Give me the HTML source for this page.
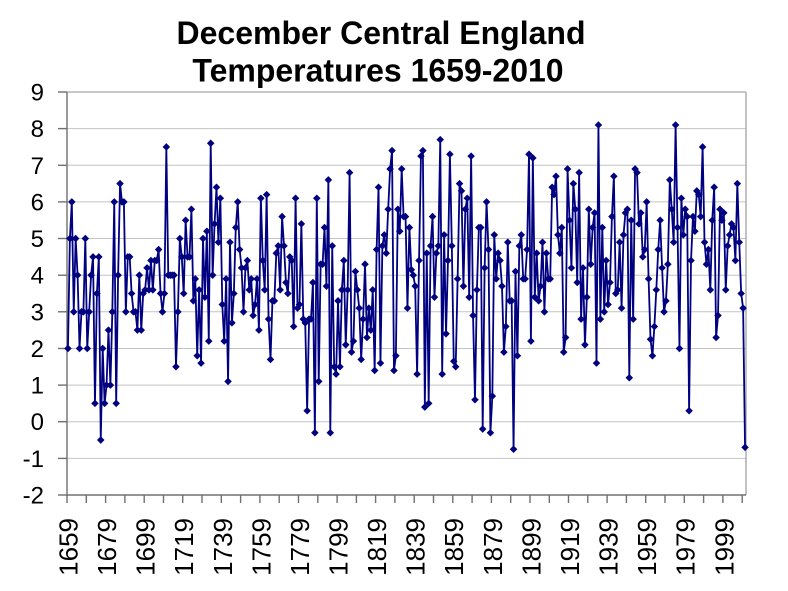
<!DOCTYPE html>
<html>
<head>
<meta charset="utf-8">
<style>
  html,body{margin:0;padding:0;background:#fff;}
  body{width:788px;height:591px;overflow:hidden;}
  svg{display:block;}
  text{font-family:"Liberation Sans",Arial,sans-serif;fill:#000;}
</style>
</head>
<body>
<svg width="788" height="591" viewBox="0 0 788 591" xmlns="http://www.w3.org/2000/svg">
  <defs>
    <marker id="dm" markerUnits="userSpaceOnUse" markerWidth="4" markerHeight="1" refX="0" refY="0" orient="0" overflow="visible" style="overflow:visible">
      <path d="M-1.95,0 L0,0.103 L1.95,0 L0,-0.103Z" fill="#000080"/>
    </marker>
  </defs>

  <!-- title -->
  <text x="381" y="44" font-size="32" font-weight="bold" text-anchor="middle">December Central England</text>
  <text x="378" y="81.5" font-size="32" font-weight="bold" text-anchor="middle">Temperatures 1659-2010</text>

  <!-- gridlines -->
  <g stroke="#c4c4c4" stroke-width="1">
    <line x1="67" y1="128.6" x2="746" y2="128.6"/>
    <line x1="67" y1="165.3" x2="746" y2="165.3"/>
    <line x1="67" y1="201.9" x2="746" y2="201.9"/>
    <line x1="67" y1="238.5" x2="746" y2="238.5"/>
    <line x1="67" y1="275.2" x2="746" y2="275.2"/>
    <line x1="67" y1="311.8" x2="746" y2="311.8"/>
    <line x1="67" y1="348.5" x2="746" y2="348.5"/>
    <line x1="67" y1="385.1" x2="746" y2="385.1"/>
    <line x1="67" y1="421.7" x2="746" y2="421.7"/>
    <line x1="67" y1="458.4" x2="746" y2="458.4"/>
  </g>
  <!-- plot border -->
  <line x1="67" y1="92" x2="746" y2="92" stroke="#a8a8a8" stroke-width="1.2"/>
  <line x1="746" y1="92" x2="746" y2="495" stroke="#a8a8a8" stroke-width="1.4"/>

  <!-- y axis -->
  <g stroke="#707070" stroke-width="1.4">
    <line x1="67" y1="92" x2="67" y2="496"/>
    <line x1="58" y1="92" x2="67" y2="92"/>
    <line x1="58" y1="128.6" x2="67" y2="128.6"/>
    <line x1="58" y1="165.3" x2="67" y2="165.3"/>
    <line x1="58" y1="201.9" x2="67" y2="201.9"/>
    <line x1="58" y1="238.5" x2="67" y2="238.5"/>
    <line x1="58" y1="275.2" x2="67" y2="275.2"/>
    <line x1="58" y1="311.8" x2="67" y2="311.8"/>
    <line x1="58" y1="348.5" x2="67" y2="348.5"/>
    <line x1="58" y1="385.1" x2="67" y2="385.1"/>
    <line x1="58" y1="421.7" x2="67" y2="421.7"/>
    <line x1="58" y1="458.4" x2="67" y2="458.4"/>
    <line x1="58" y1="495" x2="67" y2="495"/>
  </g>
  <g font-size="24" text-anchor="end">
    <text x="44" y="100.5">9</text>
    <text x="44" y="137.1">8</text>
    <text x="44" y="173.8">7</text>
    <text x="44" y="210.4">6</text>
    <text x="44" y="247">5</text>
    <text x="44" y="283.7">4</text>
    <text x="44" y="320.3">3</text>
    <text x="44" y="357">2</text>
    <text x="44" y="393.6">1</text>
    <text x="44" y="430.2">0</text>
    <text x="44" y="466.9">-1</text>
    <text x="44" y="503.5">-2</text>
  </g>

  <!-- x axis -->
  <g stroke="#707070" stroke-width="1.4">
    <line x1="66" y1="495" x2="746" y2="495"/>
    <line x1="67" y1="495" x2="67" y2="503"/>
    <line x1="86.3" y1="495" x2="86.3" y2="503"/>
    <line x1="105.6" y1="495" x2="105.6" y2="503"/>
    <line x1="124.9" y1="495" x2="124.9" y2="503"/>
    <line x1="144.2" y1="495" x2="144.2" y2="503"/>
    <line x1="163.5" y1="495" x2="163.5" y2="503"/>
    <line x1="182.7" y1="495" x2="182.7" y2="503"/>
    <line x1="202" y1="495" x2="202" y2="503"/>
    <line x1="221.3" y1="495" x2="221.3" y2="503"/>
    <line x1="240.6" y1="495" x2="240.6" y2="503"/>
    <line x1="259.9" y1="495" x2="259.9" y2="503"/>
    <line x1="279.2" y1="495" x2="279.2" y2="503"/>
    <line x1="298.5" y1="495" x2="298.5" y2="503"/>
    <line x1="317.8" y1="495" x2="317.8" y2="503"/>
    <line x1="337.1" y1="495" x2="337.1" y2="503"/>
    <line x1="356.4" y1="495" x2="356.4" y2="503"/>
    <line x1="375.6" y1="495" x2="375.6" y2="503"/>
    <line x1="394.9" y1="495" x2="394.9" y2="503"/>
    <line x1="414.2" y1="495" x2="414.2" y2="503"/>
    <line x1="433.5" y1="495" x2="433.5" y2="503"/>
    <line x1="452.8" y1="495" x2="452.8" y2="503"/>
    <line x1="472.1" y1="495" x2="472.1" y2="503"/>
    <line x1="491.4" y1="495" x2="491.4" y2="503"/>
    <line x1="510.7" y1="495" x2="510.7" y2="503"/>
    <line x1="530" y1="495" x2="530" y2="503"/>
    <line x1="549.3" y1="495" x2="549.3" y2="503"/>
    <line x1="568.5" y1="495" x2="568.5" y2="503"/>
    <line x1="587.8" y1="495" x2="587.8" y2="503"/>
    <line x1="607.1" y1="495" x2="607.1" y2="503"/>
    <line x1="626.4" y1="495" x2="626.4" y2="503"/>
    <line x1="645.7" y1="495" x2="645.7" y2="503"/>
    <line x1="665" y1="495" x2="665" y2="503"/>
    <line x1="684.3" y1="495" x2="684.3" y2="503"/>
    <line x1="703.6" y1="495" x2="703.6" y2="503"/>
    <line x1="722.9" y1="495" x2="722.9" y2="503"/>
    <line x1="742.2" y1="495" x2="742.2" y2="503"/>
  </g>
  <g font-size="26" text-anchor="end">
    <text transform="translate(77.5,518) rotate(-90)">1659</text>
    <text transform="translate(116,518) rotate(-90)">1679</text>
    <text transform="translate(154.6,518) rotate(-90)">1699</text>
    <text transform="translate(193.2,518) rotate(-90)">1719</text>
    <text transform="translate(231.8,518) rotate(-90)">1739</text>
    <text transform="translate(270.3,518) rotate(-90)">1759</text>
    <text transform="translate(308.9,518) rotate(-90)">1779</text>
    <text transform="translate(347.5,518) rotate(-90)">1799</text>
    <text transform="translate(386.1,518) rotate(-90)">1819</text>
    <text transform="translate(424.7,518) rotate(-90)">1839</text>
    <text transform="translate(463.2,518) rotate(-90)">1859</text>
    <text transform="translate(501.8,518) rotate(-90)">1879</text>
    <text transform="translate(540.4,518) rotate(-90)">1899</text>
    <text transform="translate(579,518) rotate(-90)">1919</text>
    <text transform="translate(617.6,518) rotate(-90)">1939</text>
    <text transform="translate(656.1,518) rotate(-90)">1959</text>
    <text transform="translate(694.7,518) rotate(-90)">1979</text>
    <text transform="translate(733.3,518) rotate(-90)">1999</text>
  </g>

  <!-- data series -->
  <g transform="translate(67.96,421.73) scale(1.929,-36.636)">
    <polyline fill="none" stroke="#000080" stroke-width="1.8" stroke-linejoin="round" vector-effect="non-scaling-stroke" points="0,2 1,5 2,6 3,3 4,5 5,4 6,2 7,3 8,3 9,5 10,2 11,3 12,4 13,4.5 14,0.5 15,3.5 16,4.5 17,-0.5 18,2 19,0.5 20,1 21,2.5 22,1 23,3 24,6 25,0.5 26,4 27,6.5 28,6 29,6 30,3 31,4.5 32,4.5 33,3.5 34,3 35,3 36,2.5 37,4 38,2.5 39,3.5 40,3.6 41,4.2 42,3.6 43,4.4 44,3.6 45,4.4 46,4.4 47,4.7 48,3.5 49,3 50,3.5 51,7.5 52,4 53,4 54,4 55,4 56,1.5 57,3 58,5 59,4.5 60,3.5 61,5.5 62,4.5 63,4.5 64,5.8 65,3.3 66,3.9 67,1.8 68,3.6 69,1.6 70,5 71,3.4 72,5.2 73,2.2 74,7.6 75,4 76,5.4 77,6.4 78,4.9 79,6.1 80,3.2 81,2.2 82,3.9 83,1.1 84,4.9 85,2.7 86,3.5 87,5.3 88,6 89,4.7 90,4.2 91,3 92,4.2 93,4.4 94,3.6 95,3.9 96,2.9 97,3.2 98,3.9 99,2.5 100,6.1 101,4.4 102,3.6 103,6.2 104,2.8 105,1.7 106,3.3 107,3.3 108,4.6 109,4.8 110,3.6 111,5.6 112,4.8 113,3.8 114,3.5 115,4.5 116,4.4 117,2.6 118,6.1 119,3.1 120,3.2 121,5.4 122,2.8 123,2.7 124,0.3 125,2.8 126,2.8 127,3.8 128,-0.3 129,6.1 130,1.1 131,4.3 132,4.3 133,5.3 134,3.7 135,6.6 136,-0.3 137,4.8 138,1.5 139,1.3 140,3.3 141,1.5 142,3.6 143,4.4 144,2.1 145,3.6 146,6.8 147,1.9 148,2.2 149,4.1 150,3.6 151,3.1 152,1.7 153,2.8 154,4.3 155,2.3 156,3.1 157,2.5 158,3.6 159,1.4 160,4.7 161,6.4 162,1.6 163,4.8 164,5.1 165,4.6 166,5.8 167,6.9 168,7.4 169,1.4 170,1.8 171,5.8 172,5.2 173,6.9 174,5.6 175,5.6 176,3.1 177,5.3 178,4.15 179,4 180,3.7 181,1.3 182,4.4 183,7.25 184,7.4 185,0.4 186,4.6 187,0.5 188,4.8 189,5.6 190,3.4 191,4.6 192,4.8 193,7.7 194,1.3 195,5.1 196,2.4 197,4.4 198,7.3 199,4.8 200,1.65 201,1.5 202,3.9 203,6.5 204,6.3 205,3.7 206,5.8 207,6.1 208,3.4 209,7.25 210,2.9 211,0.6 212,3.6 213,5.3 214,5.3 215,-0.2 216,4.2 217,6 218,4.7 219,-0.3 220,0.7 221,5.1 222,3.9 223,4.6 224,4.4 225,3.7 226,1.9 227,2.6 228,4.9 229,3.3 230,3.3 231,-0.75 232,4.1 233,1.8 234,4.8 235,5.1 236,3.9 237,3.9 238,4.7 239,7.3 240,2.2 241,7.2 242,3.4 243,4.6 244,3.3 245,3.7 246,4.9 247,3 248,4.6 249,3.9 250,3.9 251,6.4 252,6.2 253,6.7 254,5.1 255,4.6 256,5.3 257,1.9 258,2.3 259,6.9 260,5.5 261,4.2 262,6.5 263,5.8 264,3.8 265,6.8 266,2.8 267,4.2 268,2.1 269,3.4 270,5.8 271,4.3 272,5.3 273,5.7 274,1.6 275,8.1 276,2.8 277,5.3 278,3 279,4.4 280,3.2 281,3.8 282,5.6 283,6.7 284,3.5 285,3.6 286,4.9 287,3.1 288,5.1 289,5.7 290,5.8 291,1.2 292,5.5 293,2.8 294,6.9 295,6.8 296,5.4 297,5.7 298,4.5 299,4.7 300,6 301,3.9 302,2.25 303,1.8 304,2.6 305,3.6 306,4.7 307,5.5 308,4.2 309,3 310,3.3 311,4.3 312,6.6 313,5.8 314,4.9 315,8.1 316,5.3 317,2 318,6.1 319,5.1 320,5.8 321,5.6 322,0.3 323,4.4 324,5.6 325,5.2 326,6.3 327,6.2 328,5.6 329,7.5 330,4.9 331,4.3 332,4.7 333,3.6 334,5.5 335,6.4 336,2.3 337,2.9 338,5.8 339,5.5 340,5.7 341,3.6 342,4.8 343,5.1 344,5.4 345,5.3 346,4.4 347,6.5 348,4.9 349,3.5 350,3.1 351,-0.7"/>
    <polyline fill="none" stroke="none" marker-start="url(#dm)" marker-mid="url(#dm)" marker-end="url(#dm)" points="0,2 1,5 2,6 3,3 4,5 5,4 6,2 7,3 8,3 9,5 10,2 11,3 12,4 13,4.5 14,0.5 15,3.5 16,4.5 17,-0.5 18,2 19,0.5 20,1 21,2.5 22,1 23,3 24,6 25,0.5 26,4 27,6.5 28,6 29,6 30,3 31,4.5 32,4.5 33,3.5 34,3 35,3 36,2.5 37,4 38,2.5 39,3.5 40,3.6 41,4.2 42,3.6 43,4.4 44,3.6 45,4.4 46,4.4 47,4.7 48,3.5 49,3 50,3.5 51,7.5 52,4 53,4 54,4 55,4 56,1.5 57,3 58,5 59,4.5 60,3.5 61,5.5 62,4.5 63,4.5 64,5.8 65,3.3 66,3.9 67,1.8 68,3.6 69,1.6 70,5 71,3.4 72,5.2 73,2.2 74,7.6 75,4 76,5.4 77,6.4 78,4.9 79,6.1 80,3.2 81,2.2 82,3.9 83,1.1 84,4.9 85,2.7 86,3.5 87,5.3 88,6 89,4.7 90,4.2 91,3 92,4.2 93,4.4 94,3.6 95,3.9 96,2.9 97,3.2 98,3.9 99,2.5 100,6.1 101,4.4 102,3.6 103,6.2 104,2.8 105,1.7 106,3.3 107,3.3 108,4.6 109,4.8 110,3.6 111,5.6 112,4.8 113,3.8 114,3.5 115,4.5 116,4.4 117,2.6 118,6.1 119,3.1 120,3.2 121,5.4 122,2.8 123,2.7 124,0.3 125,2.8 126,2.8 127,3.8 128,-0.3 129,6.1 130,1.1 131,4.3 132,4.3 133,5.3 134,3.7 135,6.6 136,-0.3 137,4.8 138,1.5 139,1.3 140,3.3 141,1.5 142,3.6 143,4.4 144,2.1 145,3.6 146,6.8 147,1.9 148,2.2 149,4.1 150,3.6 151,3.1 152,1.7 153,2.8 154,4.3 155,2.3 156,3.1 157,2.5 158,3.6 159,1.4 160,4.7 161,6.4 162,1.6 163,4.8 164,5.1 165,4.6 166,5.8 167,6.9 168,7.4 169,1.4 170,1.8 171,5.8 172,5.2 173,6.9 174,5.6 175,5.6 176,3.1 177,5.3 178,4.15 179,4 180,3.7 181,1.3 182,4.4 183,7.25 184,7.4 185,0.4 186,4.6 187,0.5 188,4.8 189,5.6 190,3.4 191,4.6 192,4.8 193,7.7 194,1.3 195,5.1 196,2.4 197,4.4 198,7.3 199,4.8 200,1.65 201,1.5 202,3.9 203,6.5 204,6.3 205,3.7 206,5.8 207,6.1 208,3.4 209,7.25 210,2.9 211,0.6 212,3.6 213,5.3 214,5.3 215,-0.2 216,4.2 217,6 218,4.7 219,-0.3 220,0.7 221,5.1 222,3.9 223,4.6 224,4.4 225,3.7 226,1.9 227,2.6 228,4.9 229,3.3 230,3.3 231,-0.75 232,4.1 233,1.8 234,4.8 235,5.1 236,3.9 237,3.9 238,4.7 239,7.3 240,2.2 241,7.2 242,3.4 243,4.6 244,3.3 245,3.7 246,4.9 247,3 248,4.6 249,3.9 250,3.9 251,6.4 252,6.2 253,6.7 254,5.1 255,4.6 256,5.3 257,1.9 258,2.3 259,6.9 260,5.5 261,4.2 262,6.5 263,5.8 264,3.8 265,6.8 266,2.8 267,4.2 268,2.1 269,3.4 270,5.8 271,4.3 272,5.3 273,5.7 274,1.6 275,8.1 276,2.8 277,5.3 278,3 279,4.4 280,3.2 281,3.8 282,5.6 283,6.7 284,3.5 285,3.6 286,4.9 287,3.1 288,5.1 289,5.7 290,5.8 291,1.2 292,5.5 293,2.8 294,6.9 295,6.8 296,5.4 297,5.7 298,4.5 299,4.7 300,6 301,3.9 302,2.25 303,1.8 304,2.6 305,3.6 306,4.7 307,5.5 308,4.2 309,3 310,3.3 311,4.3 312,6.6 313,5.8 314,4.9 315,8.1 316,5.3 317,2 318,6.1 319,5.1 320,5.8 321,5.6 322,0.3 323,4.4 324,5.6 325,5.2 326,6.3 327,6.2 328,5.6 329,7.5 330,4.9 331,4.3 332,4.7 333,3.6 334,5.5 335,6.4 336,2.3 337,2.9 338,5.8 339,5.5 340,5.7 341,3.6 342,4.8 343,5.1 344,5.4 345,5.3 346,4.4 347,6.5 348,4.9 349,3.5 350,3.1 351,-0.7"/>
  </g>
</svg>
</body>
</html>
